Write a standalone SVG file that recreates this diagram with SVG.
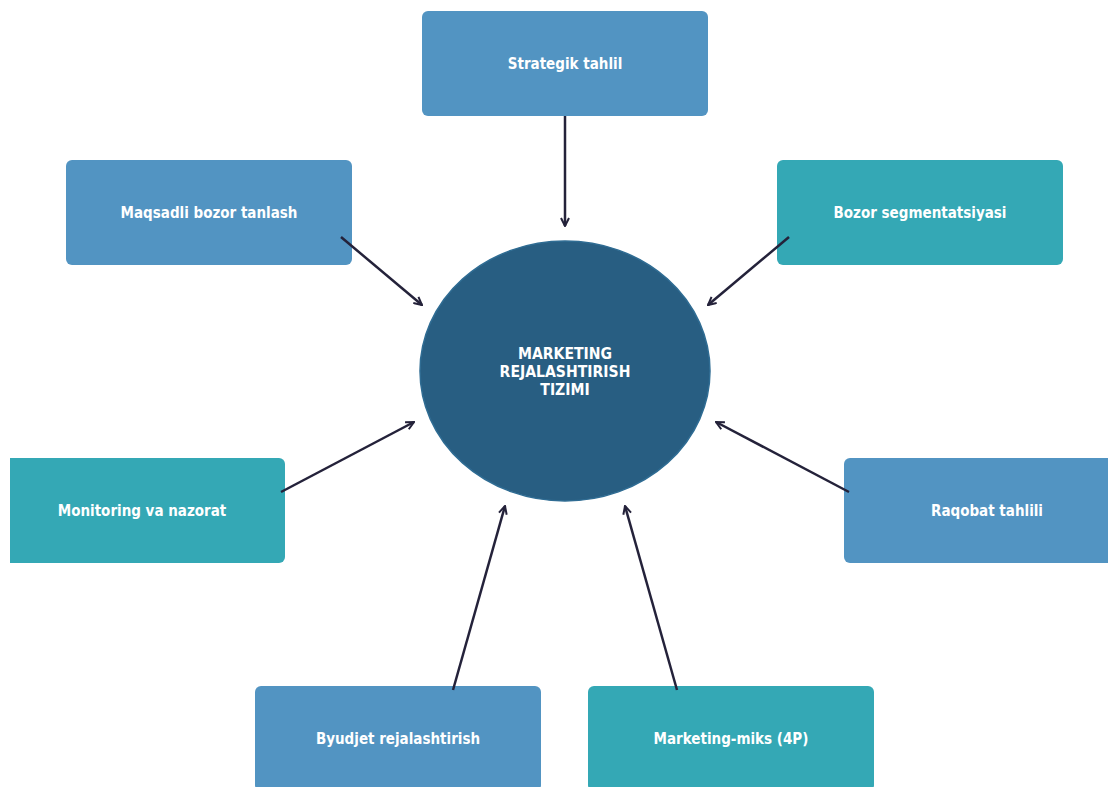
<svg xmlns="http://www.w3.org/2000/svg" width="1108" height="787" viewBox="0 0 1108 787">
<defs>
<style>
.box{stroke:none}
.b1{fill:#5294c2}
.b2{fill:#34a8b5}
.lbl{font-family:"DejaVu Sans Condensed","DejaVu Sans",sans-serif;font-stretch:condensed;font-weight:bold;font-size:15px;fill:#ffffff;text-anchor:middle;dominant-baseline:central}
.ctr{font-family:"DejaVu Sans Condensed","DejaVu Sans",sans-serif;font-stretch:condensed;font-weight:bold;font-size:15.6px;fill:#ffffff;text-anchor:middle}
.conn{stroke:#24223a;stroke-width:2.5;fill:none;marker-end:url(#ah)}
</style>
<marker id="ah" viewBox="0 0 10 10" refX="9" refY="5" markerWidth="4" markerHeight="4" orient="auto" markerUnits="strokeWidth">
<path d="M1,1 L9,5 L1,9" fill="none" stroke="#24223a" stroke-width="2" stroke-linejoin="miter"/>
</marker>
<clipPath id="pg"><rect x="10" y="0" width="1098" height="787"/></clipPath>
</defs>
<rect width="1108" height="787" fill="#ffffff"/>
<g id="center">
<ellipse cx="565" cy="371" rx="145" ry="130" fill="#285e82" stroke="#2f6c93" stroke-width="1.5"/>
<text class="ctr" x="565" y="358.5">MARKETING</text>
<text class="ctr" x="565" y="376.8">REJALASHTIRISH</text>
<text class="ctr" x="565" y="395.1">TIZIMI</text>
</g>
<g id="n-strategik">
<rect class="box b1" x="422" y="11" width="286" height="105" rx="6"/>
<text class="lbl" x="565" y="63.5">Strategik tahlil</text>
</g>
<g id="n-maqsadli">
<rect class="box b1" x="66" y="160" width="286" height="105" rx="6"/>
<text class="lbl" x="209" y="212.5">Maqsadli bozor tanlash</text>
</g>
<g id="n-bozor">
<rect class="box b2" x="777" y="160" width="286" height="105" rx="6"/>
<text class="lbl" x="920" y="212.5">Bozor segmentatsiyasi</text>
</g>
<g id="n-monitoring" clip-path="url(#pg)">
<rect class="box b2" x="-1" y="458" width="286" height="105" rx="6"/>
<text class="lbl" x="142" y="510.5">Monitoring va nazorat</text>
</g>
<g id="n-raqobat">
<rect class="box b1" x="844" y="458" width="286" height="105" rx="6"/>
<text class="lbl" x="987" y="510.5">Raqobat tahlili</text>
</g>
<g id="n-byudjet">
<rect class="box b1" x="255" y="686" width="286" height="105" rx="6"/>
<text class="lbl" x="398" y="739">Byudjet rejalashtirish</text>
</g>
<g id="n-miks">
<rect class="box b2" x="588" y="686" width="286" height="105" rx="6"/>
<text class="lbl" x="731" y="739">Marketing-miks (4P)</text>
</g>
<g id="connectors">
<line class="conn" x1="565" y1="116" x2="565" y2="226"/>
<line class="conn" x1="341" y1="237" x2="422" y2="305"/>
<line class="conn" x1="789" y1="237" x2="708" y2="305"/>
<line class="conn" x1="281" y1="492" x2="414" y2="422"/>
<line class="conn" x1="849" y1="492" x2="716" y2="422"/>
<line class="conn" x1="453" y1="690" x2="505" y2="506"/>
<line class="conn" x1="677" y1="690" x2="625" y2="506"/>
</g>
</svg>
